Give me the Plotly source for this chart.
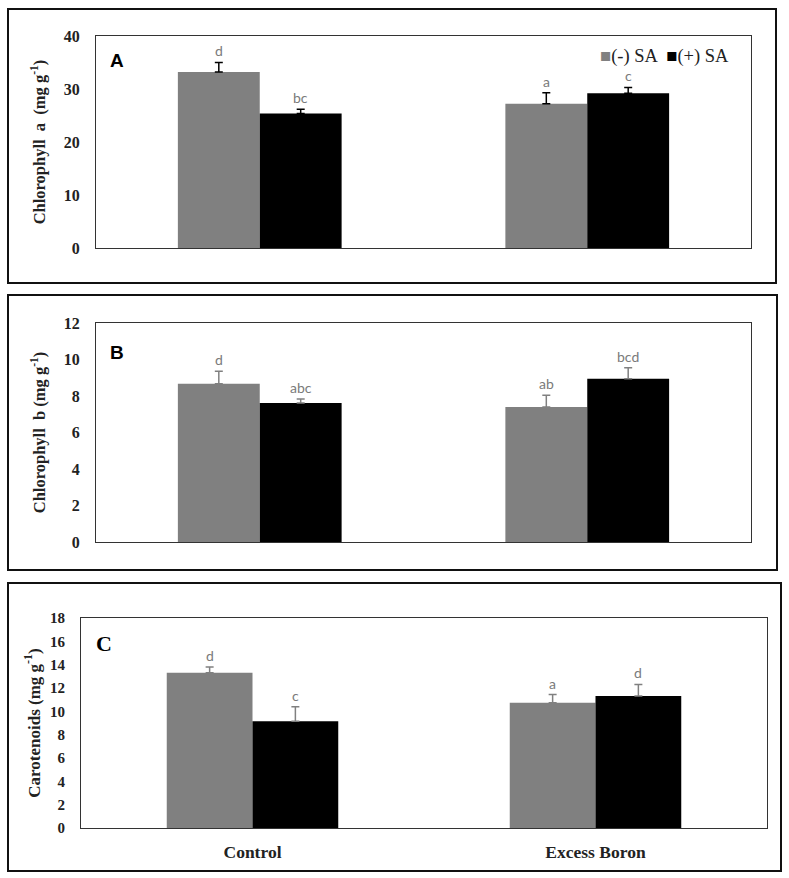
import plotly.graph_objects as go

W, H = 789, 878

categories = ["Control", "Excess Boron"]
series_names = ["(-) SA", "(+) SA"]

chl_a_minus = [33.2, 27.2]
chl_a_plus = [25.4, 29.2]
chl_a_minus_err = [1.8, 2.1]
chl_a_plus_err = [0.8, 1.1]
chl_a_letters_minus = ["d", "a"]
chl_a_letters_plus = ["bc", "c"]

chl_b_minus = [8.67, 7.40]
chl_b_plus = [7.62, 8.95]
chl_b_minus_err = [0.68, 0.64]
chl_b_plus_err = [0.22, 0.60]
chl_b_letters_minus = ["d", "ab"]
chl_b_letters_plus = ["abc", "bcd"]

car_minus = [13.3, 10.74]
car_plus = [9.14, 11.31]
car_minus_err = [0.5, 0.7]
car_plus_err = [1.25, 1.0]
car_letters_minus = ["d", "a"]
car_letters_plus = ["c", "d"]

yticks_a = [0, 10, 20, 30, 40]
yticks_b = [0, 2, 4, 6, 8, 10, 12]
yticks_c = [0, 2, 4, 6, 8, 10, 12, 14, 16, 18]

GRAY = "#808080"
BLACK = "#000000"
LETTER = "#7a7a7a"
SERIF = "Liberation Serif, Times New Roman, serif"
SANS = "Lato, Open Sans, sans-serif"


def px(x):
    return x / W


def py(y):
    return 1 - y / H


fig = go.Figure()

panels = [
    dict(ax="", minus=chl_a_minus, plus=chl_a_plus, em=chl_a_minus_err, ep=chl_a_plus_err,
         lm=chl_a_letters_minus, lp=chl_a_letters_plus, errc=(BLACK, BLACK),
         xd=[px(96), px(751)], yd=[py(248), py(36)], rng=[0, 40], ticks=yticks_a,
         title="<b>Chlorophyll  a  (mg g<sup>-1</sup>)</b>", tsize=16.5, tick=16, so=14,
         showx=False),
    dict(ax="2", minus=chl_b_minus, plus=chl_b_plus, em=chl_b_minus_err, ep=chl_b_plus_err,
         lm=chl_b_letters_minus, lp=chl_b_letters_plus, errc=(GRAY, GRAY),
         xd=[px(96), px(751)], yd=[py(542), py(323)], rng=[0, 12], ticks=yticks_b,
         title="<b>Chlorophyll  b (mg g<sup>-1</sup>)</b>", tsize=16.5, tick=16, so=14,
         showx=False),
    dict(ax="3", minus=car_minus, plus=car_plus, em=car_minus_err, ep=car_plus_err,
         lm=car_letters_minus, lp=car_letters_plus, errc=(GRAY, GRAY),
         xd=[px(81), px(767)], yd=[py(828), py(618)], rng=[0, 18], ticks=yticks_c,
         title="<b>Carotenoids (mg g<sup>-1</sup>)</b>", tsize=17, tick=15, so=5,
         showx=True),
]

annotations = []
for p in panels:
    xa = "x" + p["ax"]
    ya = "y" + p["ax"]
    for name, vals, errs, col, ec, off, letters in [
        (series_names[0], p["minus"], p["em"], GRAY, p["errc"][0], "a", p["lm"]),
        (series_names[1], p["plus"], p["ep"], BLACK, p["errc"][1], "b", p["lp"]),
    ]:
        fig.add_trace(go.Bar(
            x=categories, y=vals, name=name, marker=dict(color=col, line=dict(width=0)),
            error_y=dict(type="data", symmetric=False, array=errs, arrayminus=[0] * len(errs),
                         color=ec, thickness=1.5, width=4),
            xaxis=xa, yaxis=ya, showlegend=False, offsetgroup=off,
        ))
        for i, (v, e, t) in enumerate(zip(vals, errs, letters)):
            dx = -0.125 if off == "a" else 0.125
            annotations.append(dict(
                x=i + dx, y=v + e, xref=xa, yref=ya, text=t, showarrow=False,
                xanchor="center", yanchor="bottom", yshift=1,
                font=dict(family=SANS, size=14, color=LETTER),
            ))

layout = dict(
    width=W, height=H, margin=dict(l=0, r=0, t=0, b=0, autoexpand=False),
    paper_bgcolor="white", plot_bgcolor="white",
    barmode="group", bargap=0.5, bargroupgap=0,
    showlegend=False,
)

for p in panels:
    k = p["ax"]
    layout["xaxis" + k] = dict(
        domain=p["xd"], anchor="y" + k, type="category", range=[-0.5, 1.5],
        showline=True, linecolor="#333333", linewidth=1, mirror=True,
        showgrid=False, zeroline=False, ticks="", automargin=False,
        showticklabels=p["showx"], ticklabelstandoff=8,
        tickfont=dict(family=SERIF, size=17.5, color="#222222", weight="bold"),
    )
    layout["yaxis" + k] = dict(
        domain=p["yd"], anchor="x" + k, range=p["rng"], tickvals=p["ticks"],
        showline=True, linecolor="#333333", linewidth=1, mirror=True,
        showgrid=False, zeroline=False, ticks="", ticklabelstandoff=12, automargin=False,
        tickfont=dict(family=SERIF, size=p["tick"], color="#222222", weight="bold"),
        title=dict(text=p["title"], font=dict(family=SERIF, size=p["tsize"], color="#222222"),
                   standoff=p["so"]),
    )

fig.update_layout(**layout)

# panel letters
annotations += [
    dict(x=px(117), y=py(60), xref="paper", yref="paper", text="<b>A</b>", showarrow=False,
         xanchor="center", yanchor="middle",
         font=dict(family="Liberation Sans, Arial, sans-serif", size=19, color="black")),
    dict(x=px(117), y=py(352), xref="paper", yref="paper", text="<b>B</b>", showarrow=False,
         xanchor="center", yanchor="middle",
         font=dict(family="Liberation Sans, Arial, sans-serif", size=19, color="black")),
    dict(x=px(104), y=py(643), xref="paper", yref="paper", text="<b>C</b>", showarrow=False,
         xanchor="center", yanchor="middle",
         font=dict(family=SERIF, size=22, color="black")),
]

# legend (panel A)
annotations.append(dict(
    x=px(598), y=py(57), xref="paper", yref="paper", xanchor="left", yanchor="middle",
    showarrow=False,
    text=(f"<span style='color:{GRAY}'>■</span>{series_names[0]}  "
          f"<span style='color:{BLACK}'>■</span>{series_names[1]}"),
    font=dict(family=SERIF, size=18.5, color="#222222"),
))

fig.update_layout(annotations=annotations)

# outer frames
shapes = []
for x0, y0, x1, y1 in [(8, 9, 776, 283), (8, 295, 777, 570), (8, 583, 781, 871)]:
    shapes.append(dict(type="rect", xref="paper", yref="paper",
                       x0=px(x0), x1=px(x1), y0=py(y1), y1=py(y0),
                       line=dict(color="#111111", width=2), fillcolor="rgba(0,0,0,0)"))
fig.update_layout(shapes=shapes)

fig.write_html("out.html", config={"displayModeBar": False},
               post_script="document.body.style.margin='0px';")
